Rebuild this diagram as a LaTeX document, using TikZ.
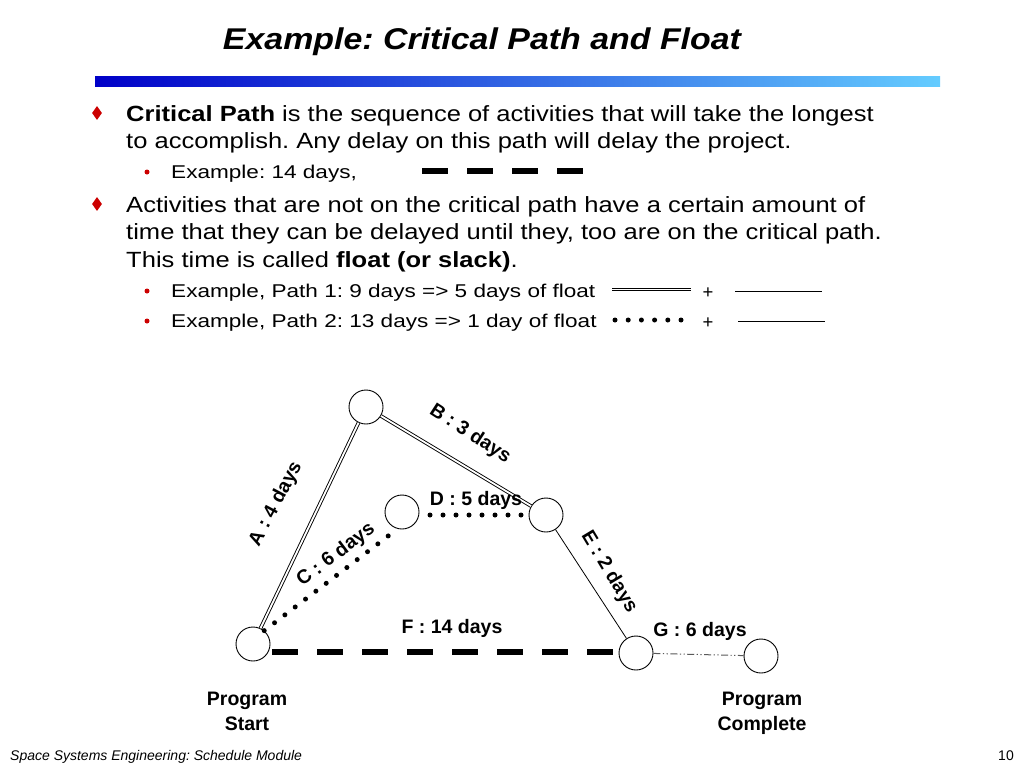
\documentclass[tikz,border=0pt]{standalone}
\usepackage{fontspec}
\setmainfont{Liberation Sans}
\usetikzlibrary{shapes.geometric}
\definecolor{bulletred}{RGB}{204,0,0}
\definecolor{barleft}{RGB}{0,0,200}
\definecolor{barright}{RGB}{100,204,255}
\begin{document}
\frenchspacing
\begin{tikzpicture}[x=1pt,y=-1pt,
  body/.style={anchor=base west, inner sep=0pt, xscale=1.16, font=\fontsize{22}{26}\selectfont},
  subtext/.style={anchor=base west, inner sep=0pt, xscale=1.22, font=\fontsize{18.5}{22}\selectfont},
  diam/.style={diamond, fill=bulletred, inner sep=0pt, minimum width=10pt, minimum height=14pt},
  subdot/.style={circle, fill=bulletred, inner sep=0pt, minimum size=5pt},
  evt/.style={circle, draw, line width=0.9pt, minimum size=34pt, inner sep=0pt, fill=white},
  dbl/.style={draw, line width=0.9pt, double=white, double distance=1.8pt},
  dots/.style={line width=5pt, line cap=round, dash pattern=on 0pt off 13pt},
  bigdash/.style={line width=6pt, dash pattern=on 26pt off 19pt},
  thin/.style={line width=0.8pt},
  ddot/.style={line width=1pt, draw=black!65, dash pattern=on 7pt off 2.5pt on 1.2pt off 2.5pt on 1.2pt off 2.5pt},
  lbl/.style={font=\bfseries\fontsize{19.5}{23}\selectfont, inner sep=0pt},
  ftr/.style={font=\itshape\fontsize{14}{16}\selectfont, inner sep=0pt}]
\useasboundingbox (0,0) rectangle (1024,768);
\fill[white] (0,0) rectangle (1024,768);
% title
\node[font=\bfseries\itshape\fontsize{30}{36}\selectfont, inner sep=0pt, xscale=1.13] (title) at (482,42) {Example: Critical Path and Float};
\shade[left color=barleft, right color=barright] (95,76) rectangle (940,86);
% bullets
\node[diam] (b1) at (97,113) {};
\node[body] (t1a) at (126,121) {\textbf{Critical Path} is the sequence of activities that will take the longest};
\node[body] (t1b) at (126,148) {to accomplish. Any delay on this path will delay the project.};
\node[subdot] (s1) at (147,172) {};
\node[subtext] (s1t) at (171,178.5) {Example: 14 days,};
\coordinate (cp1) at (422,171);
\coordinate (cp2) at (584,171);
\draw[bigdash] (cp1) -- (cp2);
\node[diam] (b2) at (97,204) {};
\node[body] (t2a) at (126,212) {Activities that are not on the critical path have a certain amount of};
\node[body] (t2b) at (126,239) {time that they can be delayed until they, too are on the critical path.};
\node[body] (t2c) at (126,267) {This time is called \textbf{float (or slack)}.};
\node[subdot] (s2) at (147,291) {};
\node[subtext] (s2t) at (171,297.5) {Example, Path 1: 9 days => 5 days of float};
\coordinate (p1a) at (612,289.5);
\coordinate (p1b) at (691,289.5);
\draw[dbl] (p1a) -- (p1b);
\node[subtext, anchor=center, xscale=1/1.22] (plus1) at (708,293) {+};
\coordinate (l1a) at (735,291);
\coordinate (l1b) at (822,291);
\draw[thin] (l1a) -- (l1b);
\node[subdot] (s3) at (147,321) {};
\node[subtext] (s3t) at (171,327.5) {Example, Path 2: 13 days => 1 day of float};
\coordinate (p2a) at (615,320);
\coordinate (p2b) at (681,320);
\draw[dots, dash pattern=on 0pt off 13.2pt] (p2a) -- (p2b);
\node[subtext, anchor=center, xscale=1/1.22] (plus2) at (708,323) {+};
\coordinate (l2a) at (738,321);
\coordinate (l2b) at (825,321);
\draw[thin] (l2a) -- (l2b);
% network
\node[evt] (st) at (253,644) {};
\node[evt] (n1) at (366,407) {};
\node[evt] (n2) at (402,512) {};
\node[evt] (n3) at (546,515) {};
\node[evt] (n4) at (636,653) {};
\node[evt] (en) at (761,656) {};
\draw[dbl] (st) -- (n1);
\draw[dbl] (n1) -- (n3);
\draw[dots, shorten >=8pt] (st.50) -- (n2.255);
\coordinate (dstart) at (430,515);
\draw[dots] (dstart) -- (n3.west);
\draw[thin] (n3) -- (n4);
\coordinate (fstart) at (272,652);
\draw[bigdash] (fstart) -- (n4.west |- fstart);
\draw[ddot] (n4) -- (en);
% labels
\node[lbl, rotate=62] (la) at (276,504) {A : 4 days};
\node[lbl, rotate=-33] (lb) at (470,434) {B : 3 days};
\node[lbl, rotate=37] (lc) at (336,555) {C : 6 days};
\node[lbl] (ld) at (476,500) {D : 5 days};
\node[lbl, rotate=-59] (le) at (609,572) {E : 2 days};
\node[lbl] (lf) at (452,628) {F : 14 days};
\node[lbl] (lg) at (700,631) {G : 6 days};
\node[lbl, align=center] (ps) at (247,711) {Program\\[2pt]Start};
\node[lbl, align=center] (pc) at (762,713) {Program\\[2pt]Complete};
% footer
\node[ftr, anchor=base west] (f1) at (10,760) {Space Systems Engineering: Schedule Module};
\node[ftr, font=\fontsize{14}{16}\selectfont, anchor=base east] (f2) at (1014,760) {10};
\end{tikzpicture}
\end{document}
